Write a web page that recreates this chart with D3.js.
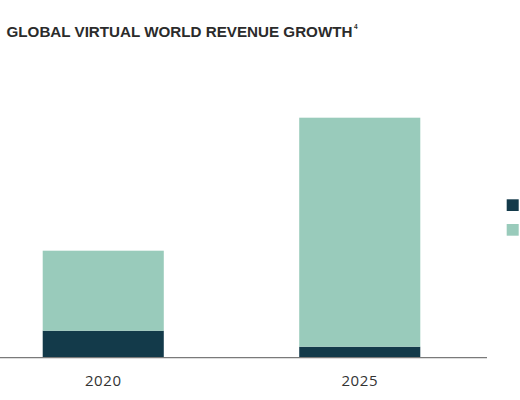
<!DOCTYPE html>
<html>
<head>
<meta charset="utf-8">
<script src="https://cdn.jsdelivr.net/npm/d3@7/dist/d3.min.js"></script>
<style>
  html, body { margin: 0; padding: 0; background: #fff; }
  svg { display: block; }
</style>
</head>
<body>
<svg id="chart" width="520" height="400"></svg>
<script>
// ---- data ----
const categories = ["2020", "2025"];
const seriesNames = ["Series A", "Series B"];
const seriesA = [27, 11];     // dark bottom segment
const seriesB = [80, 229];    // light top segment
const titleText = "GLOBAL VIRTUAL WORLD REVENUE GROWTH";
const titleSup = "4";

const colors = ["#133a4a", "#99cbbb"];

const svg = d3.select("#chart");
const baseY = 357.7;

const rows = categories.map((c, i) => ({ cat: c, a: seriesA[i], b: seriesB[i] }));
const stack = d3.stack().keys(["a", "b"])(rows);

const x = d3.scaleBand().domain(categories).range([0, 463])
  .paddingInner(0.528).paddingOuter(0.1665);
const y = d3.scaleLinear().domain([0, 240]).range([baseY, baseY - 240]);

// bars
svg.append("g").selectAll("g").data(stack).join("g")
  .attr("fill", (d, i) => colors[i])
  .selectAll("rect").data(d => d).join("rect")
  .attr("x", d => x(d.data.cat))
  .attr("width", x.bandwidth())
  .attr("y", d => y(d[1]))
  .attr("height", d => y(d[0]) - y(d[1]));

// baseline
svg.append("line")
  .attr("x1", 0).attr("x2", 487)
  .attr("y1", baseY).attr("y2", baseY)
  .attr("stroke", "#7a7a7a").attr("stroke-width", 1.2);

// x axis labels
const xAxis = d3.axisBottom(x).tickSize(0).tickPadding(0);
const gx = svg.append("g").attr("transform", `translate(0,${baseY})`).call(xAxis);
gx.select(".domain").remove();
gx.selectAll("text")
  .attr("y", 28.5).attr("dy", 0)
  .attr("font-family", "'Open Sans', sans-serif")
  .attr("font-size", 15)
  .attr("letter-spacing", 0.6)
  .attr("fill", "#333");

// legend swatches (labels lie outside the visible area)
svg.append("g").selectAll("rect").data(seriesNames).join("rect")
  .attr("x", 506.7).attr("y", (d, i) => 199.3 + i * 24.7)
  .attr("width", 12).attr("height", 11.7)
  .attr("fill", (d, i) => colors[i]);

// title
const title = svg.append("text")
  .attr("x", 6.5).attr("y", 37.3)
  .attr("font-family", "'Liberation Sans', Arial, sans-serif")
  .attr("font-weight", 700)
  .attr("font-size", 15)
  .attr("fill", "#2b2b2b")
  .text(titleText);
const target = 346;
title.attr("textLength", target).attr("lengthAdjust", "spacingAndGlyphs");
svg.append("text")
  .attr("x", 6.5 + target + 1.5).attr("y", 28.5)
  .attr("font-family", "'Liberation Sans', Arial, sans-serif")
  .attr("font-weight", 700)
  .attr("font-size", 6.5)
  .attr("fill", "#2b2b2b")
  .text(titleSup);
</script>
</body>
</html>
